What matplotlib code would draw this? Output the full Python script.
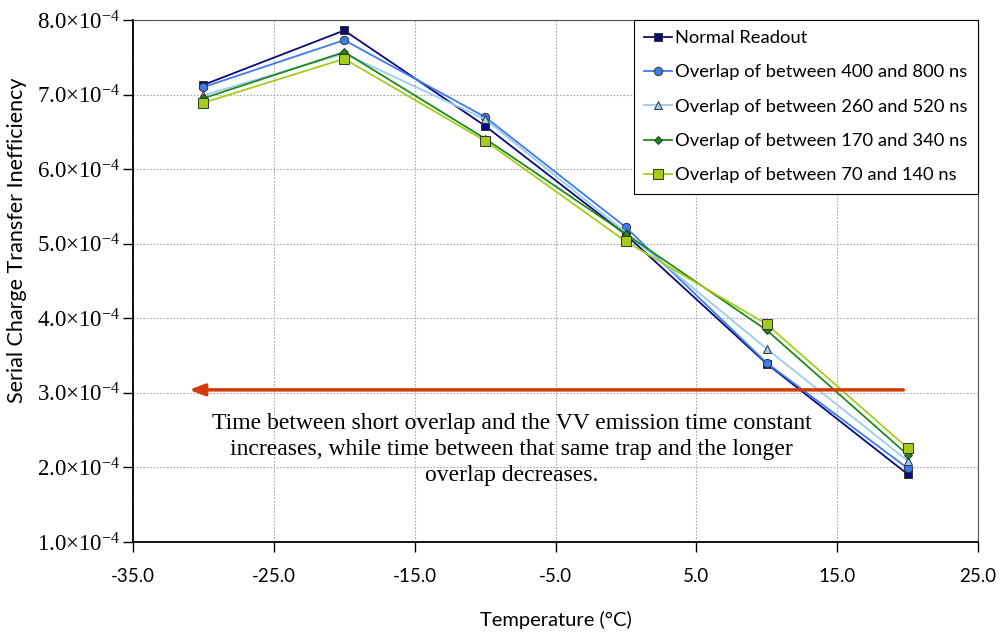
import numpy as np
import matplotlib
matplotlib.use('Agg')
import matplotlib.pyplot as plt
from matplotlib.ticker import FuncFormatter

# temperatures (deg C)
temps = [-30, -20, -10, 0, 10, 20]

# serial CTI for each readout mode (x 1e-4)
normal = [7.13, 7.86, 6.58, 5.12, 3.39, 1.91]
ov_400_800 = [7.10, 7.73, 6.70, 5.22, 3.40, 1.99]
ov_260_520 = [6.99, 7.55, 6.67, 5.15, 3.59, 2.09]
ov_170_340 = [6.95, 7.57, 6.41, 5.13, 3.84, 2.17]
ov_70_140 = [6.89, 7.48, 6.38, 5.03, 3.92, 2.26]

labels = ['Normal Readout',
          'Overlap of between 400 and 800 ns',
          'Overlap of between 260 and 520 ns',
          'Overlap of between 170 and 340 ns',
          'Overlap of between 70 and 140 ns']

note = ('Time between short overlap and the VV emission time constant\n'
        'increases, while time between that same trap and the longer\n'
        'overlap decreases.')

fig = plt.figure(figsize=(10.03, 6.34), dpi=100)
ax = fig.add_axes([133/1003, 1-542/634, (978-133)/1003, (542-20)/634])

series = [normal, ov_400_800, ov_260_520, ov_170_340, ov_70_140]
colors = ['#0a0a7a', '#3d7cf0', '#9ccbf2', '#1e8a1e', '#a4cc1a']
markers = ['s', 'o', '^', 'D', 's']
msizes = [6, 6, 6, 4.5, 7]

for vals, c, m, ms, lab in zip(series, colors, markers, msizes, labels):
    ax.plot(temps, vals, color=c, lw=1.3, marker=m, ms=ms,
            mec='#333333', mew=0.7, label=lab)

# arrow and note
ax.annotate('', xy=(-31.0, 3.04), xytext=(19.7, 3.04),
            arrowprops=dict(arrowstyle='-|>,head_length=0.9,head_width=0.35',
                            color='#d23a0a', lw=2.5, shrinkA=0, shrinkB=0))
ax.text(-8.1, 2.24, note, ha='center', va='center', fontsize=17,
        family='Liberation Serif', linespacing=1.3)

ax.set_xlim(-35, 25)
ax.set_ylim(1.0, 8.0)
ax.set_xticks(np.arange(-35, 26, 10))
ax.set_yticks(np.arange(1, 8.1, 1))
ax.xaxis.set_major_formatter(FuncFormatter(lambda v, p: '%.1f' % v))
ax.yaxis.set_major_formatter(
    FuncFormatter(lambda v, p: '%.1f\u00d710$\\mathregular{^{-4}}$' % v))
for t in ax.get_yticklabels():
    t.set_family('Liberation Serif')
    t.set_fontsize(16.5)
for t in ax.get_xticklabels():
    t.set_family('Lato')
    t.set_fontsize(13.5)

ax.tick_params(direction='out', length=7, color='black', width=1)
ax.tick_params(axis='x', pad=12)
ax.tick_params(axis='y', pad=2)
ax.grid(True, color='#a8a8a8', ls=(0, (1.5, 1.5)), lw=0.8)
ax.set_axisbelow(True)
for s in ['left', 'bottom']:
    ax.spines[s].set_linewidth(1.3)
for s in ['top', 'right']:
    ax.spines[s].set_linewidth(0.8)
    ax.spines[s].set_color('#555555')

ax.set_xlabel('Temperature (\u00b0C)', family='Lato', fontsize=14.5)
ax.xaxis.set_label_coords(0.5, -0.132)
ax.set_ylabel('Serial Charge Transfer Inefficiency', family='Lato',
              fontsize=15.5)
ax.yaxis.set_label_coords(-0.125, 0.579)

leg = ax.legend(loc='upper right', prop={'family': 'Lato', 'size': 13.2},
                handlelength=1.5, handletextpad=0.2, labelspacing=1.0,
                borderaxespad=0, fancybox=False, framealpha=1,
                borderpad=0.55)
leg.get_frame().set_edgecolor('black')
leg.get_frame().set_linewidth(0.8)

fig.savefig('out.png', dpi=100)
